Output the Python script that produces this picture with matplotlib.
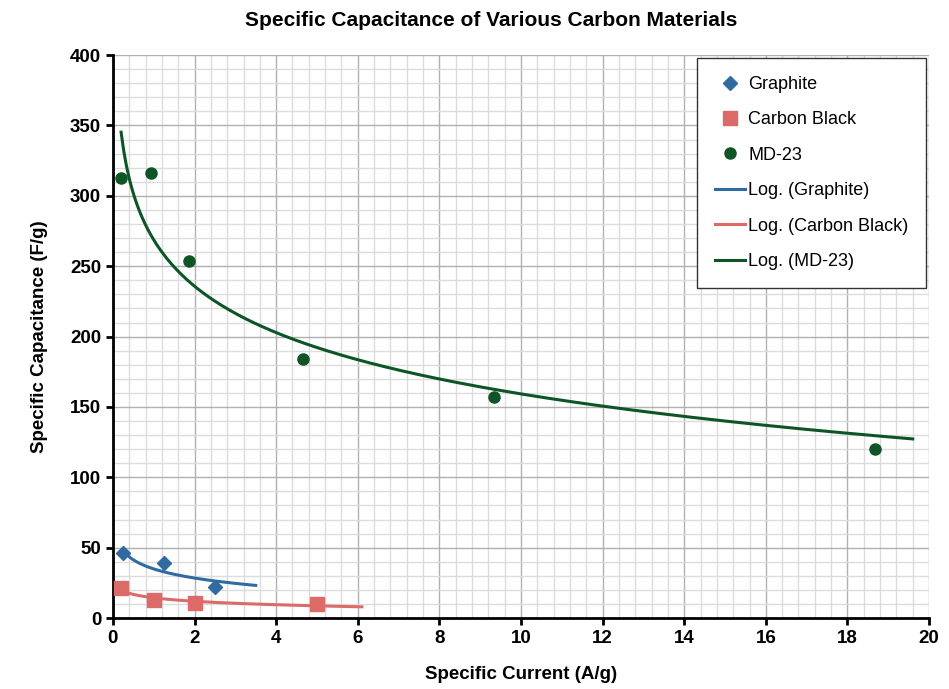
import numpy as np
import matplotlib
matplotlib.use("Agg")
import matplotlib.pyplot as plt
from matplotlib.ticker import MultipleLocator

plt.rcParams['font.family'] = ['Liberation Sans', 'DejaVu Sans']

# measured points
graphite_x = [0.25, 1.25, 2.5]
graphite_y = [46, 39, 22]
cblack_x = [0.2, 1.0, 2.0, 5.0]
cblack_y = [21, 13, 11, 10]
md23_x = [0.2, 0.93, 1.87, 4.67, 9.33, 18.67]
md23_y = [313, 316, 254, 184, 157, 120]

# trendline x-ranges (as drawn by the spreadsheet)
graphite_fit_range = (0.25, 3.5)
cblack_fit_range = (0.2, 6.1)
md23_fit_range = (0.2, 19.6)

blue = '#2f6aa0'
red = '#dc6a68'
green = '#0d5526'

def log_fit(x, y, rng):
    a, b = np.polyfit(np.log(x), y, 1)
    xs = np.linspace(rng[0], rng[1], 300)
    return xs, a * np.log(xs) + b

fig = plt.figure(figsize=(9.49, 6.89), dpi=100)
ax = fig.add_axes([0.119, 0.103, 0.860, 0.817])

ax.xaxis.set_major_locator(MultipleLocator(2))
ax.xaxis.set_minor_locator(MultipleLocator(0.4))
ax.yaxis.set_major_locator(MultipleLocator(50))
ax.yaxis.set_minor_locator(MultipleLocator(10))
ax.grid(which='minor', color='#dcdcdc', lw=1.0, zorder=0)
ax.grid(which='major', color='#b0b0b0', lw=1.0, zorder=0)
ax.set_axisbelow(True)

ax.plot(graphite_x, graphite_y, 'D', color=blue, ms=7, ls='none', label='Graphite', zorder=4)
ax.plot(cblack_x, cblack_y, 's', color=red, ms=10, ls='none', label='Carbon Black', zorder=4)
ax.plot(md23_x, md23_y, 'o', color=green, ms=8, ls='none', label='MD-23', zorder=4)

xs, ys = log_fit(graphite_x, graphite_y, graphite_fit_range)
ax.plot(xs, ys, color=blue, lw=2.2, label='Log. (Graphite)', zorder=3)
xs, ys = log_fit(cblack_x, cblack_y, cblack_fit_range)
ax.plot(xs, ys, color=red, lw=2.2, label='Log. (Carbon Black)', zorder=3)
xs, ys = log_fit(md23_x, md23_y, md23_fit_range)
ax.plot(xs, ys, color=green, lw=2.2, label='Log. (MD-23)', zorder=3)

ax.set_xlim(0, 20)
ax.set_ylim(0, 400)

for s in ['top', 'right']:
    ax.spines[s].set_visible(False)
for s in ['left', 'bottom']:
    ax.spines[s].set_linewidth(2)
    ax.spines[s].set_color('black')

ax.tick_params(which='major', direction='out', length=5, width=2, labelsize=13.5)
ax.tick_params(which='minor', length=0)
for lab in ax.get_xticklabels() + ax.get_yticklabels():
    lab.set_fontweight('bold')

ax.set_xlabel('Specific Current (A/g)', fontsize=13.5, fontweight='bold', labelpad=14)
ax.set_ylabel('Specific Capacitance (F/g)', fontsize=13.5, fontweight='bold', labelpad=16)
fig.text(0.518, 0.970, 'Specific Capacitance of Various Carbon Materials',
         ha='center', va='center', fontsize=15, fontweight='bold')

leg = ax.legend(loc='upper right', bbox_to_anchor=(1.0, 1.0), fontsize=13,
                fancybox=False, framealpha=1, edgecolor='#333333',
                handlelength=1.7, handletextpad=0.15, labelspacing=1.02,
                borderpad=1.0, borderaxespad=0.15)
leg.get_frame().set_linewidth(1.0)

fig.savefig('out.png', dpi=100)
